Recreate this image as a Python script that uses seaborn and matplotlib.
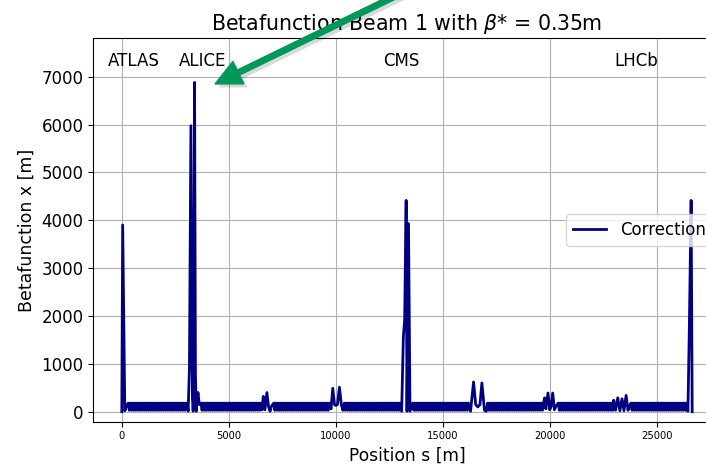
import numpy as np
import pandas as pd
import matplotlib
matplotlib.use("Agg")
import matplotlib.pyplot as plt
import matplotlib.patches as mpatches
import matplotlib.patheffects as pe
from matplotlib.transforms import IdentityTransform
import seaborn as sns

# ---------------- data ----------------
# Interaction region around IP1 (ATLAS), right side
ir1_right_s = [0, 40, 140, 220]
ir1_right_b = [0.35, 3900, 20, 120]

arc12_s = [300, 350, 400, 450, 500, 550, 600, 650, 700, 750,
           800, 850, 900, 950, 1000, 1050, 1100, 1150, 1200, 1250,
           1300, 1350, 1400, 1450, 1500, 1550, 1600, 1650, 1700, 1750,
           1800, 1850, 1900, 1950, 2000, 2050, 2100, 2150, 2200, 2250,
           2300, 2350, 2400, 2450, 2500, 2550, 2600, 2650, 2700, 2750,
           2800, 2850, 2900, 2950, 3000]
arc12_b = [180, 30, 180, 30, 180, 30, 180, 30, 180, 30,
           180, 30, 180, 30, 180, 30, 180, 30, 180, 30,
           180, 30, 180, 30, 180, 30, 180, 30, 180, 30,
           180, 30, 180, 30, 180, 30, 180, 30, 180, 30,
           180, 30, 180, 30, 180, 30, 180, 30, 180, 30,
           180, 30, 180, 30, 180]

# IP2 (ALICE)
ir2_s = [3060, 3100, 3160, 3230, 3300, 3332, 3360, 3400, 3440, 3480, 3560, 3620]
ir2_b = [150, 10, 900, 5975, 300, 10, 300, 6880, 800, 10, 400, 150]

arc23_s = [3700, 3750, 3800, 3850, 3900, 3950, 4000, 4050, 4100, 4150,
           4200, 4250, 4300, 4350, 4400, 4450, 4500, 4550, 4600, 4650,
           4700, 4750, 4800, 4850, 4900, 4950, 5000, 5050, 5100, 5150,
           5200, 5250, 5300, 5350, 5400, 5450, 5500, 5550, 5600, 5650,
           5700, 5750, 5800, 5850, 5900, 5950, 6000, 6050, 6100, 6150,
           6200, 6250, 6300, 6350, 6400, 6450, 6500]
arc23_b = [180, 30, 180, 30, 180, 30, 180, 30, 180, 30,
           180, 30, 180, 30, 180, 30, 180, 30, 180, 30,
           180, 30, 180, 30, 180, 30, 180, 30, 180, 30,
           180, 30, 180, 30, 180, 30, 180, 30, 180, 30,
           180, 30, 180, 30, 180, 30, 180, 30, 180, 30,
           180, 30, 180, 30, 180, 30, 180]

# IP3
ir3_s = [6560, 6610, 6690, 6780, 6860, 6930, 7000]
ir3_b = [40, 320, 40, 400, 100, 10, 120]

arc34_s = [7100, 7150, 7200, 7250, 7300, 7350, 7400, 7450, 7500, 7550,
           7600, 7650, 7700, 7750, 7800, 7850, 7900, 7950, 8000, 8050,
           8100, 8150, 8200, 8250, 8300, 8350, 8400, 8450, 8500, 8550,
           8600, 8650, 8700, 8750, 8800, 8850, 8900, 8950, 9000, 9050,
           9100, 9150, 9200, 9250, 9300, 9350, 9400, 9450, 9500, 9550,
           9600, 9650, 9700]
arc34_b = [180, 30, 180, 30, 180, 30, 180, 30, 180, 30,
           180, 30, 180, 30, 180, 30, 180, 30, 180, 30,
           180, 30, 180, 30, 180, 30, 180, 30, 180, 30,
           180, 30, 180, 30, 180, 30, 180, 30, 180, 30,
           180, 30, 180, 30, 180, 30, 180, 30, 180, 30,
           180, 30, 180]

# IP4
ir4_s = [9780, 9860, 9940, 10000, 10080, 10170, 10260, 10330]
ir4_b = [60, 490, 150, 130, 150, 510, 150, 30]

arc45_s = [10400, 10450, 10500, 10550, 10600, 10650, 10700, 10750, 10800, 10850,
           10900, 10950, 11000, 11050, 11100, 11150, 11200, 11250, 11300, 11350,
           11400, 11450, 11500, 11550, 11600, 11650, 11700, 11750, 11800, 11850,
           11900, 11950, 12000, 12050, 12100, 12150, 12200, 12250, 12300, 12350,
           12400, 12450, 12500, 12550, 12600, 12650, 12700, 12750, 12800, 12850,
           12900, 12950, 13000]
arc45_b = [180, 30, 180, 30, 180, 30, 180, 30, 180, 30,
           180, 30, 180, 30, 180, 30, 180, 30, 180, 30,
           180, 30, 180, 30, 180, 30, 180, 30, 180, 30,
           180, 30, 180, 30, 180, 30, 180, 30, 180, 30,
           180, 30, 180, 30, 180, 30, 180, 30, 180, 30,
           180, 30, 180]

# IP5 (CMS)
ir5_s = [13080, 13160, 13220, 13290, 13329, 13400, 13470, 13540]
ir5_b = [10, 1570, 1920, 4415, 10, 3930, 10, 100]

arc56_s = [13600, 13650, 13700, 13750, 13800, 13850, 13900, 13950, 14000, 14050,
           14100, 14150, 14200, 14250, 14300, 14350, 14400, 14450, 14500, 14550,
           14600, 14650, 14700, 14750, 14800, 14850, 14900, 14950, 15000, 15050,
           15100, 15150, 15200, 15250, 15300, 15350, 15400, 15450, 15500, 15550,
           15600, 15650, 15700, 15750, 15800, 15850, 15900, 15950, 16000, 16050,
           16100, 16150, 16200]
arc56_b = [180, 30, 180, 30, 180, 30, 180, 30, 180, 30,
           180, 30, 180, 30, 180, 30, 180, 30, 180, 30,
           180, 30, 180, 30, 180, 30, 180, 30, 180, 30,
           180, 30, 180, 30, 180, 30, 180, 30, 180, 30,
           180, 30, 180, 30, 180, 30, 180, 30, 180, 30,
           180, 30, 180]

# IP6
ir6_s = [16300, 16440, 16540, 16640, 16740, 16830, 16950, 17030]
ir6_b = [10, 620, 150, 100, 150, 600, 30, 10]

arc67_s = [17100, 17150, 17200, 17250, 17300, 17350, 17400, 17450, 17500, 17550,
           17600, 17650, 17700, 17750, 17800, 17850, 17900, 17950, 18000, 18050,
           18100, 18150, 18200, 18250, 18300, 18350, 18400, 18450, 18500, 18550,
           18600, 18650, 18700, 18750, 18800, 18850, 18900, 18950, 19000, 19050,
           19100, 19150, 19200, 19250, 19300, 19350, 19400, 19450, 19500, 19550,
           19600]
arc67_b = [180, 30, 180, 30, 180, 30, 180, 30, 180, 30,
           180, 30, 180, 30, 180, 30, 180, 30, 180, 30,
           180, 30, 180, 30, 180, 30, 180, 30, 180, 30,
           180, 30, 180, 30, 180, 30, 180, 30, 180, 30,
           180, 30, 180, 30, 180, 30, 180, 30, 180, 30,
           180]

# IP7
ir7_s = [19660, 19700, 19760, 19820, 19920, 20000, 20060, 20140, 20220, 20300]
ir7_b = [30, 150, 290, 60, 390, 40, 100, 390, 40, 120]

arc78_s = [20400, 20450, 20500, 20550, 20600, 20650, 20700, 20750, 20800, 20850,
           20900, 20950, 21000, 21050, 21100, 21150, 21200, 21250, 21300, 21350,
           21400, 21450, 21500, 21550, 21600, 21650, 21700, 21750, 21800, 21850,
           21900, 21950, 22000, 22050, 22100, 22150, 22200, 22250, 22300, 22350,
           22400, 22450, 22500, 22550, 22600, 22650, 22700, 22750, 22800, 22850,
           22900]
arc78_b = [180, 30, 180, 30, 180, 30, 180, 30, 180, 30,
           180, 30, 180, 30, 180, 30, 180, 30, 180, 30,
           180, 30, 180, 30, 180, 30, 180, 30, 180, 30,
           180, 30, 180, 30, 180, 30, 180, 30, 180, 30,
           180, 30, 180, 30, 180, 30, 180, 30, 180, 30,
           180]

# IP8
ir8_s = [22950, 22990, 23080, 23180, 23280, 23380, 23470, 23570, 23660, 23740]
ir8_b = [30, 240, 30, 290, 20, 270, 20, 340, 30, 120]

arc81_s = [23800, 23850, 23900, 23950, 24000, 24050, 24100, 24150, 24200, 24250,
           24300, 24350, 24400, 24450, 24500, 24550, 24600, 24650, 24700, 24750,
           24800, 24850, 24900, 24950, 25000, 25050, 25100, 25150, 25200, 25250,
           25300, 25350, 25400, 25450, 25500, 25550, 25600, 25650, 25700, 25750,
           25800, 25850, 25900, 25950, 26000, 26050, 26100, 26150, 26200, 26250,
           26300, 26350, 26400]
arc81_b = [180, 30, 180, 30, 180, 30, 180, 30, 180, 30,
           180, 30, 180, 30, 180, 30, 180, 30, 180, 30,
           180, 30, 180, 30, 180, 30, 180, 30, 180, 30,
           180, 30, 180, 30, 180, 30, 180, 30, 180, 30,
           180, 30, 180, 30, 180, 30, 180, 30, 180, 30,
           180, 30, 180]

# IP1 left side (end of ring)
ir1_left_s = [26460, 26520, 26610, 26659]
ir1_left_b = [10, 1570, 4415, 0.35]

experiments = ["ATLAS", "ALICE", "CMS", "LHCb"]
experiment_label_s = [562, 3790, 13080, 24050]

x_ticks = [0, 5000, 10000, 15000, 20000, 25000]
y_ticks = [0, 1000, 2000, 3000, 4000, 5000, 6000, 7000]

# ---------------- assemble ----------------
sections = [
    (ir1_right_s, ir1_right_b), (arc12_s, arc12_b), (ir2_s, ir2_b),
    (arc23_s, arc23_b), (ir3_s, ir3_b), (arc34_s, arc34_b), (ir4_s, ir4_b),
    (arc45_s, arc45_b), (ir5_s, ir5_b), (arc56_s, arc56_b), (ir6_s, ir6_b),
    (arc67_s, arc67_b), (ir7_s, ir7_b), (arc78_s, arc78_b), (ir8_s, ir8_b),
    (arc81_s, arc81_b), (ir1_left_s, ir1_left_b),
]
s_all, b_all = [], []
for s_sec, b_sec in sections:
    assert len(s_sec) == len(b_sec), (s_sec[0], len(s_sec), len(b_sec))
    s_all += s_sec
    b_all += b_sec
df = pd.DataFrame({"s": s_all, "beta": b_all})

# ---------------- plot ----------------
W, H, DPI = 706, 467, 100
fig = plt.figure(figsize=(W / DPI, H / DPI), dpi=DPI)
ax = fig.add_axes([93.3 / W, 1 - 421.5 / H, 627.4 / W, (421.5 - 38.3) / H])

sns.lineplot(data=df, x="s", y="beta", ax=ax, color="#000080", linewidth=2.0,
             estimator=None, sort=False, label="Correction")

ax.set_xlim(-1333, 27992)
ax.set_ylim(-205, 7802)
ax.set_xticks(x_ticks)
ax.set_yticks(y_ticks)
ax.tick_params(axis="x", labelsize=7.2)
ax.tick_params(axis="y", labelsize=12)
ax.grid(True, color="#b0b0b0", linewidth=0.8)
ax.set_xlabel("Position s [m]", fontsize=12.3)
ax.set_ylabel("Betafunction x [m]", fontsize=12.5)
ax.set_title(r"Betafunction Beam 1 with $\beta$* = 0.35m", fontsize=14.8)
ax.legend(loc="center right", fontsize=12)

for name, xs in zip(experiments, experiment_label_s):
    ax.text(xs, 7215, name, ha="center", va="baseline", fontsize=12)

# green annotation arrow (pixel coordinates, origin bottom-left)
tip = np.array([215.0, H - 84.0])
direction = np.array([0.899, 0.438])
tail = tip + direction * 270
arrow = mpatches.FancyArrow(tail[0], tail[1], tip[0] - tail[0], tip[1] - tail[1],
                            width=5.5, head_width=25, head_length=26,
                            length_includes_head=True, color="#00985a",
                            transform=IdentityTransform(), zorder=10)
arrow.set_path_effects([pe.SimplePatchShadow(offset=(2.5, -2.5), shadow_rgbFace="k", alpha=0.15),
                        pe.Normal()])
fig.add_artist(arrow)

fig.savefig("out.png", dpi=DPI)
